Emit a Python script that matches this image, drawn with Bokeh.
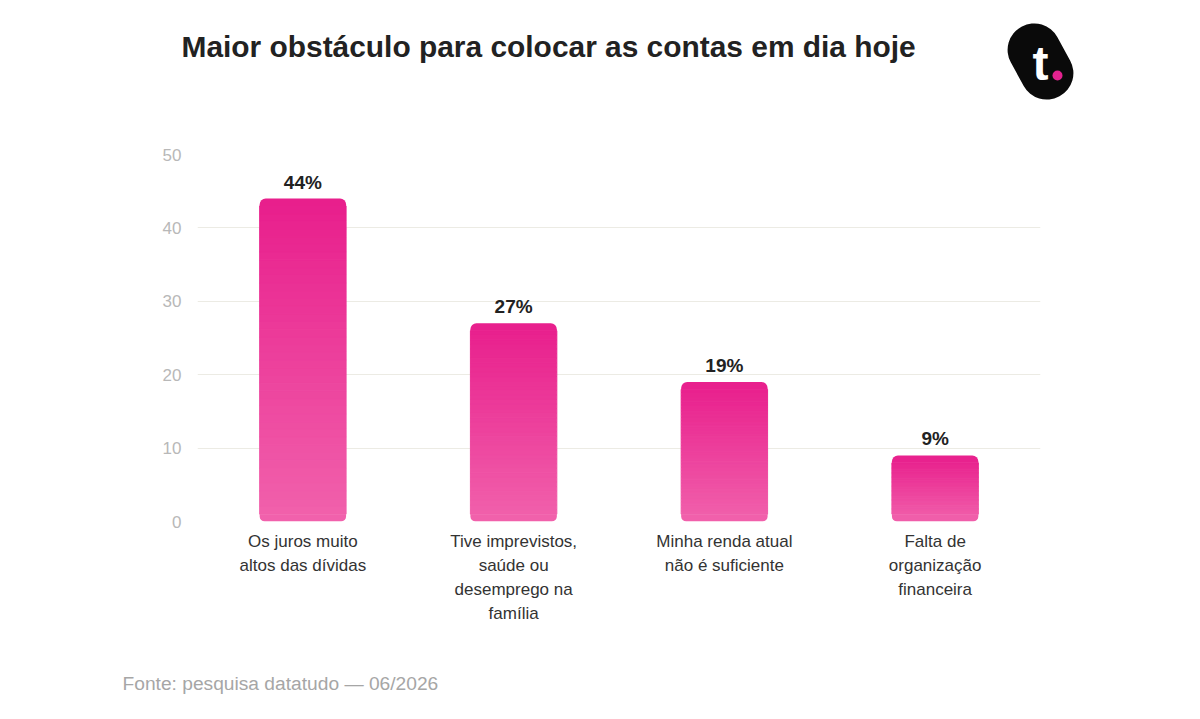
from bokeh.plotting import figure
from bokeh.layouts import column, row
from bokeh.models import ColumnDataSource, FactorRange, Range1d, LabelSet
from bokeh.core.properties import value
from bokeh.embed import file_html
from bokeh.resources import INLINE

# ---- data ----
category_labels = [
    "Os juros muito\naltos das dívidas",
    "Tive imprevistos,\nsaúde ou\ndesemprego na\nfamília",
    "Minha renda atual\nnão é suficiente",
    "Falta de\norganização\nfinanceira",
]
values = [44, 27, 19, 9]
value_labels = ["44%", "27%", "19%", "9%"]
y_ticks = [0, 10, 20, 30, 40, 50]
title_text = "Maior obstáculo para colocar as contas em dia hoje"
source_text = "Fonte: pesquisa datatudo — 06/2026"

FONT = "Liberation Sans"
TOP_COLOR = (232, 30, 140)
BOT_COLOR = (241, 98, 172)
N_SLICES = 40
CAP = 1.0          # height (data units) of the rounded caps
BAR_W = 0.41

def mix(t):
    r = [round(TOP_COLOR[i] * (1 - t) + BOT_COLOR[i] * t) for i in range(3)]
    return "#%02x%02x%02x" % tuple(r)

W = 1200
HEADER_H = 120
MAIN_H = 530
FOOTER_H = 69

# ---- header ----
hdr = figure(width=W, height=HEADER_H, x_range=Range1d(0, W), y_range=Range1d(HEADER_H, 0),
             output_backend="svg", toolbar_location=None, min_border=0)
hdr.axis.visible = False
hdr.grid.visible = False
hdr.outline_line_color = None
hdr.text(x=[181], y=[46], text=[title_text], text_font=value(FONT), text_font_style="bold",
         text_font_size="29.9px", text_color="#222222", text_baseline="middle", text_align="left")
hdr.rect(x=[1040], y=[61], width=53, height=79, angle=0.5, fill_color="#0a0a0a",
         line_color=None, width_units="screen", height_units="screen", border_radius=26)
hdr.text(x=[1040], y=[63], text=["t"], text_font=value(FONT), text_font_style="bold",
         text_font_size="48px", text_color="white", text_baseline="middle", text_align="center")
hdr.scatter(x=[1057], y=[75], size=10, fill_color="#E4228F", line_color=None)

# ---- main chart ----
p = figure(width=W, height=MAIN_H, x_range=FactorRange(factors=category_labels, range_padding=0),
           y_range=Range1d(0, 50), output_backend="svg", toolbar_location=None,
           min_border_left=197, min_border_right=160, min_border_top=34, min_border_bottom=129)
p.outline_line_color = None
p.background_fill_color = "white"

p.ygrid.ticker = y_ticks
p.ygrid.grid_line_color = "#ecebe4"
p.ygrid.grid_line_width = 1
p.xgrid.grid_line_color = None

# gradient bars as stacked slices
xs, bots, tops, cols = [], [], [], []
for c, v in zip(category_labels, values):
    span = v - 2 * CAP
    for k in range(N_SLICES):
        b = CAP + span * k / N_SLICES
        t = CAP + span * (k + 1) / N_SLICES
        xs.append(c)
        bots.append(b)
        tops.append(t)
        cols.append(mix(1 - ((b + t) / 2) / v))
src = ColumnDataSource(dict(x=xs, bottom=bots, top=tops, color=cols))
p.vbar(x="x", bottom="bottom", top="top", width=BAR_W, source=src,
       fill_color="color", line_color="color", line_width=1)

# rounded caps (top and bottom)
top_src = ColumnDataSource(dict(x=category_labels, top=values,
                                bottom=[v - CAP for v in values],
                                color=[mix(CAP / 2 / v) for v in values]))
p.vbar(x="x", bottom="bottom", top="top", width=BAR_W, source=top_src,
       fill_color="color", line_color=None, border_radius=(6, 6, 0, 0))
bot_src = ColumnDataSource(dict(x=category_labels, top=[CAP] * len(values),
                                bottom=[0] * len(values),
                                color=[mix(1 - CAP / 2 / v) for v in values]))
p.vbar(x="x", bottom="bottom", top="top", width=BAR_W, source=bot_src,
       fill_color="color", line_color=None, border_radius=(0, 0, 5, 5))

lab_src = ColumnDataSource(dict(x=category_labels, y=values, text=value_labels))
p.add_layout(LabelSet(x="x", y="y", text="text", source=lab_src, y_offset=6,
                      text_align="center", text_baseline="bottom",
                      text_font=value(FONT), text_font_style="bold",
                      text_font_size="19px", text_color="#222222"))

p.yaxis.ticker = y_ticks
p.yaxis.axis_line_color = None
p.yaxis.major_tick_line_color = None
p.yaxis.minor_tick_line_color = None
p.yaxis.major_label_text_color = "#b8b8b8"
p.yaxis.major_label_text_font = FONT
p.yaxis.major_label_text_font_size = "17px"
p.yaxis.major_label_standoff = 10

p.xaxis.axis_line_color = None
p.xaxis.major_tick_line_color = None
p.xaxis.major_label_text_color = "#333333"
p.xaxis.major_label_text_font = FONT
p.xaxis.major_label_text_font_size = "17px"
p.xaxis.major_label_text_line_height = 1.28
p.xaxis.major_label_standoff = 4

# ---- footer ----
ftr = figure(width=W, height=FOOTER_H, x_range=Range1d(0, W), y_range=Range1d(FOOTER_H, 0),
             output_backend="svg", toolbar_location=None, min_border=0)
ftr.axis.visible = False
ftr.grid.visible = False
ftr.outline_line_color = None
ftr.text(x=[122], y=[33], text=[source_text], text_font=value(FONT), text_font_size="19.2px",
         text_color="#a6a6a6", text_baseline="middle", text_align="left")

layout = column(row(hdr), row(p), row(ftr), spacing=0)
open("out.html", "w").write(file_html(layout, INLINE))
